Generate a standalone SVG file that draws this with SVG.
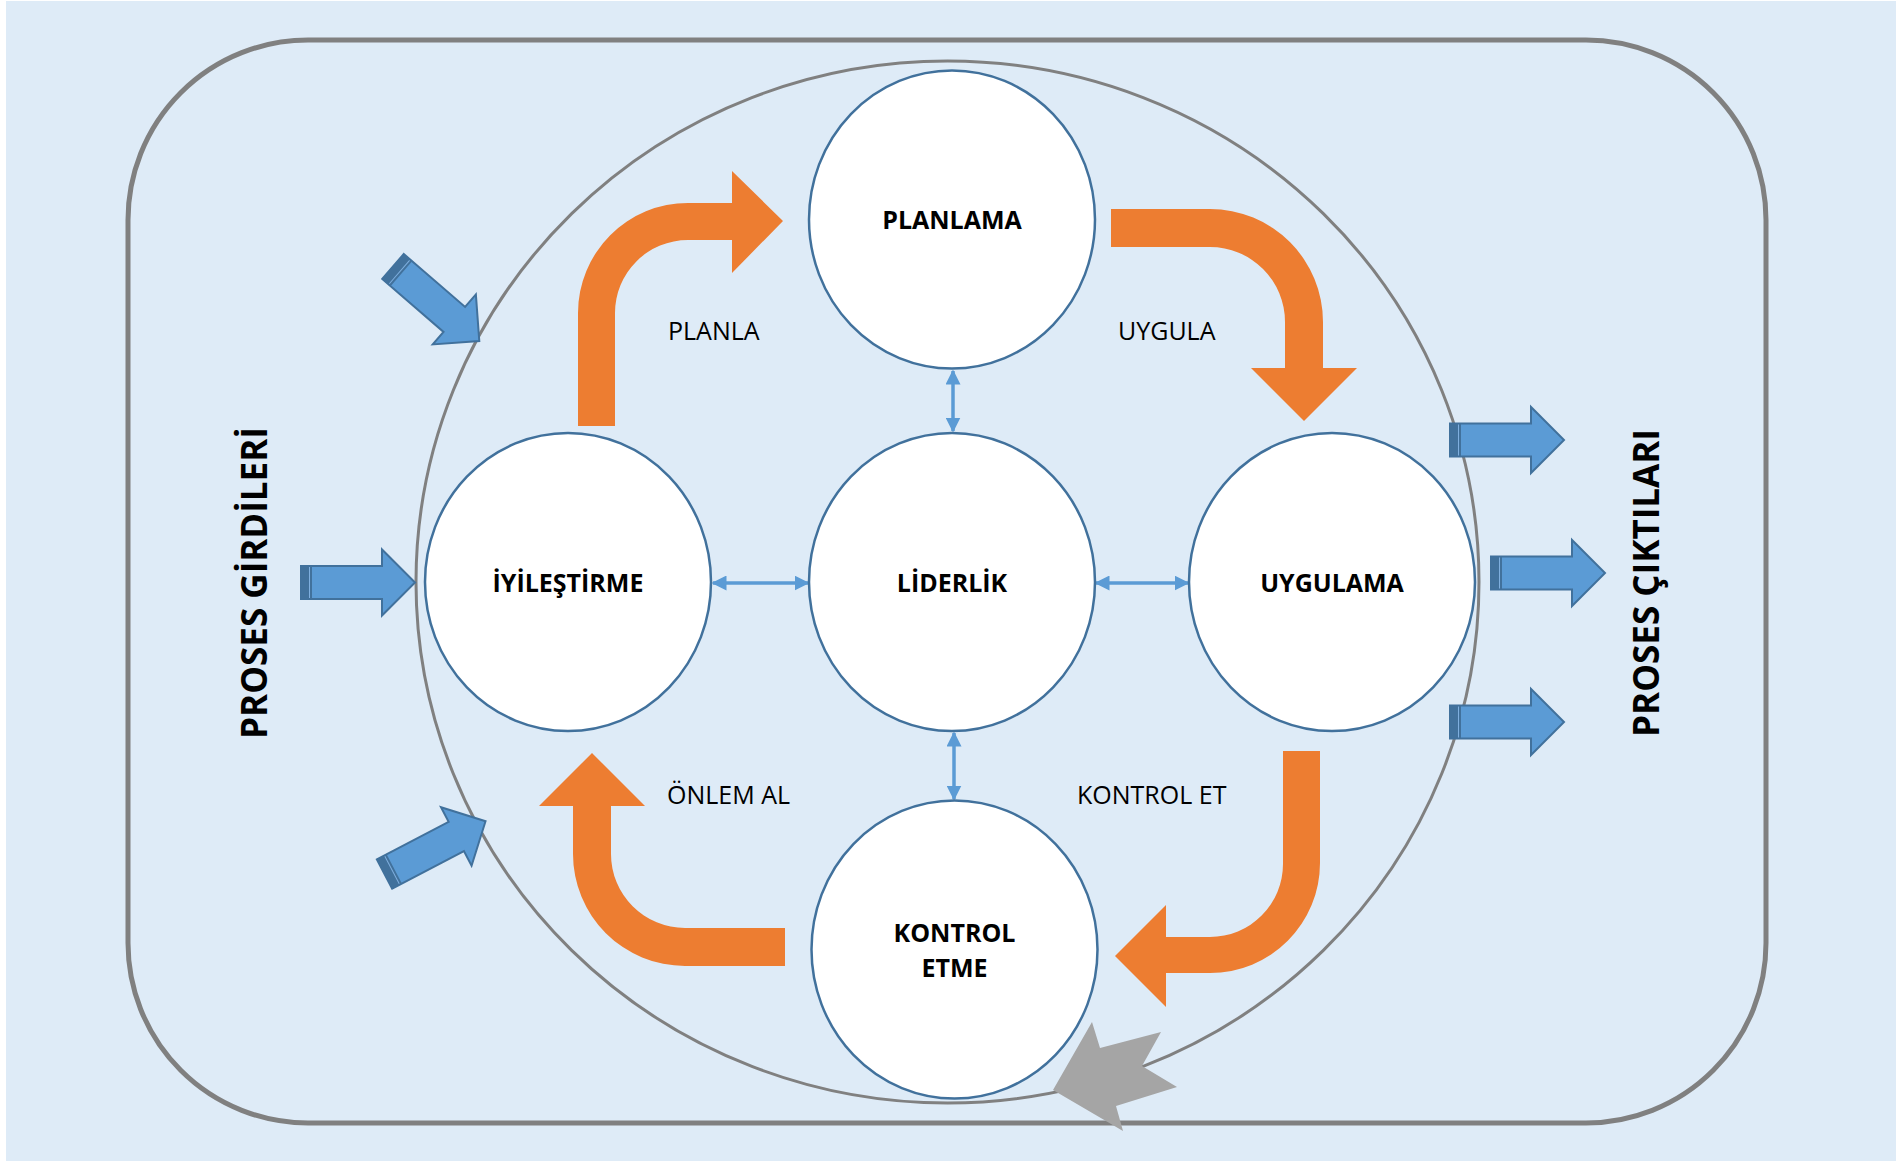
<svg xmlns="http://www.w3.org/2000/svg" width="1902" height="1162" viewBox="0 0 1902 1162">
<style>
.node{fill:#FFFFFF;stroke:#41719C;stroke-width:2.5}
.nl{font-family:"Open Sans","Liberation Sans",sans-serif;font-weight:bold;font-size:25px;fill:#000;text-anchor:middle}
.lbl{font-family:"Open Sans","Liberation Sans",sans-serif;font-size:25px;fill:#000}
.side{font-family:"Open Sans","Liberation Sans",sans-serif;font-weight:bold;font-size:35px;fill:#000;text-anchor:middle}
.orange{fill:#ED7D31}
.conn{stroke:#5B9BD5;stroke-width:3.5;fill:none;marker-start:url(#ah);marker-end:url(#ah)}
</style>
<defs>
<marker id="ah" viewBox="0 0 10 10" refX="9" refY="5" markerWidth="15" markerHeight="15" markerUnits="userSpaceOnUse" orient="auto-start-reverse">
<path d="M0,0 L10,5 L0,10 Z" fill="#5B9BD5"/>
</marker>
<g id="barrow">
<polygon points="0,-16.5 81,-16.5 81,-33 114,0 81,33 81,16.5 0,16.5" fill="#5B9BD5" stroke="#41719C" stroke-width="2" stroke-linejoin="miter"/>
<rect x="0" y="-16.5" width="11" height="33" fill="#41719C"/>
<line x1="8.5" y1="-15.5" x2="8.5" y2="15.5" stroke="#7FAFDF" stroke-width="1"/>
</g>
</defs>
<rect x="0" y="0" width="1902" height="1162" fill="#FFFFFF"/>
<rect x="6" y="1" width="1890" height="1160" fill="#DEEBF7"/>
<rect x="128" y="40" width="1638" height="1083" rx="180" ry="180" fill="none" stroke="#808080" stroke-width="5"/>
<ellipse cx="947.5" cy="582" rx="531.5" ry="521" fill="none" stroke="#808080" stroke-width="3"/>

<g id="flow-arrows">
<path class="orange" d="M578,426 L578,313 A110,110 0 0 1 688,203 L732,203 L732,171 L783,221 L732,273 L732,240 L688,240 A73,73 0 0 0 615,313 L615,426 Z"/>
<path class="orange" d="M1111,209 L1210,209 A113,113 0 0 1 1323,322 L1323,368 L1357,368 L1304,421 L1251,368 L1285,368 L1285,322 A75,75 0 0 0 1210,247 L1111,247 Z"/>
<path class="orange" d="M1283,751 L1320,751 L1320,863 A110,110 0 0 1 1210,973 L1166,973 L1166,1007 L1115,956 L1166,905 L1166,937 L1210,937 A73,73 0 0 0 1283,864 Z"/>
<path class="orange" d="M785,928 L685,928 A74,74 0 0 1 611,854 L611,806 L645,806 L592,753 L539,806 L573,806 L573,854 A112,112 0 0 0 685,966 L785,966 Z"/>
</g>

<g id="connectors">
<line class="conn" x1="953" y1="371" x2="953" y2="431"/>
<line class="conn" x1="954" y1="733" x2="954" y2="799"/>
<line class="conn" x1="713" y1="583" x2="808" y2="583"/>
<line class="conn" x1="1096" y1="583" x2="1188" y2="583"/>
</g>

<g id="inputs">
<use href="#barrow" transform="translate(393,266.5) rotate(40.8)"/>
<use href="#barrow" transform="translate(301,582.5)"/>
<use href="#barrow" transform="translate(384.5,874) rotate(-27.6)"/>
</g>
<g id="outputs">
<use href="#barrow" transform="translate(1450,440)"/>
<use href="#barrow" transform="translate(1491,573)"/>
<use href="#barrow" transform="translate(1450,722)"/>
</g>

<g id="node-planlama">
<ellipse class="node" cx="952" cy="219.5" rx="143" ry="149"/>
<text class="nl" x="952" y="229">PLANLAMA</text>
</g>
<g id="node-iyilestirme">
<ellipse class="node" cx="568" cy="582" rx="143" ry="149"/>
<text class="nl" x="568" y="592">İYİLEŞTİRME</text>
</g>
<g id="node-liderlik">
<ellipse class="node" cx="952" cy="582" rx="143" ry="149"/>
<text class="nl" x="952" y="592">LİDERLİK</text>
</g>
<g id="node-uygulama">
<ellipse class="node" cx="1332" cy="582" rx="143" ry="149"/>
<text class="nl" x="1332" y="592">UYGULAMA</text>
</g>
<g id="node-kontrol">
<ellipse class="node" cx="954.5" cy="949.5" rx="143" ry="149"/>
<text class="nl" x="954.5" y="942">KONTROL</text>
<text class="nl" x="954.5" y="977">ETME</text>
</g>

<g id="labels">
<text class="lbl" x="668" y="340">PLANLA</text>
<text class="lbl" x="1118" y="340">UYGULA</text>
<text class="lbl" x="1077" y="804">KONTROL ET</text>
<text class="lbl" x="667" y="804">ÖNLEM AL</text>
</g>

<g id="side-labels">
<text class="side" transform="translate(267,583) rotate(-90)">PROSES GİRDİLERİ</text>
<text class="side" transform="translate(1659,583) rotate(-90)">PROSES ÇIKTILARI</text>
</g>

<polygon id="return-arrow" points="1053,1090 1092,1022 1100,1048 1161,1032 1142,1066 1177,1087 1116,1106 1123,1131" fill="#A5A5A5"/>
</svg>
